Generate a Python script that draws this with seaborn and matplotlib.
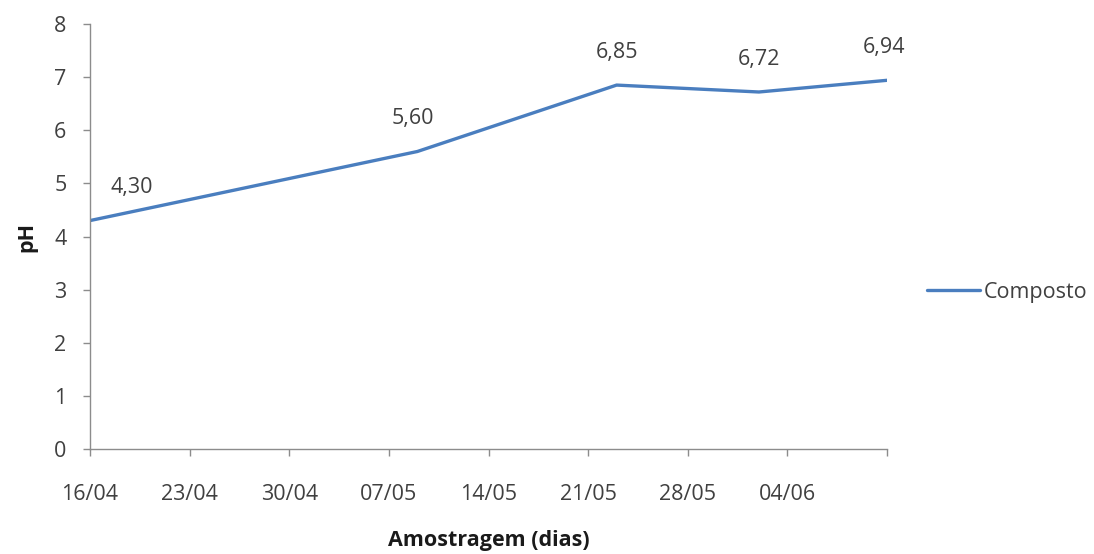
import matplotlib
matplotlib.use("Agg")
import matplotlib.pyplot as plt
import seaborn as sns
import pandas as pd

# Sampling dates (2012 season) and measured pH of the compost
sample_dates = ["2012-04-16", "2012-05-09", "2012-05-23", "2012-06-02", "2012-06-11"]
ph_values = [4.30, 5.60, 6.85, 6.72, 6.94]
series_name = "Composto"

tick_dates = pd.date_range("2012-04-16", "2012-06-11", freq="7D")
y_ticks = [0, 1, 2, 3, 4, 5, 6, 7, 8]

df = pd.DataFrame({
    "data": pd.to_datetime(sample_dates),
    "pH": ph_values,
    "serie": series_name,
})

sns.set_style("white")
plt.rcParams["font.family"] = ["Open Sans", "DejaVu Sans"]

FS = 15.5
TXT = "#404040"

fig = plt.figure(figsize=(10.94, 5.54), dpi=100)
ax = fig.add_axes([0.0823, 0.1895, 0.7285, 0.7672])

line_color = "#4A7EBF"
sns.lineplot(data=df, x="data", y="pH", hue="serie", palette=[line_color],
             linewidth=2.4, ax=ax, legend=True)

# value labels above each sample
offsets = [(30, 16), (-3, 16), (0, 16), (0, 16), (-2, 16)]
for d, v, off in zip(df["data"], ph_values, offsets):
    ax.annotate(f"{v:.2f}".replace(".", ","), (d, v), xytext=off,
                textcoords="offset points", ha="center", va="bottom",
                fontsize=FS, color=TXT)

ax.set_xlim(tick_dates[0], tick_dates[-1])
ax.set_ylim(0, 8)
ax.set_xticks(tick_dates)
labels = [d.strftime("%d/%m") for d in tick_dates]
labels[-1] = ""
ax.set_xticklabels(labels)
ax.set_yticks(y_ticks)

for side in ["top", "right"]:
    ax.spines[side].set_visible(False)
for side in ["left", "bottom"]:
    ax.spines[side].set_color("#8C8C8C")
    ax.spines[side].set_linewidth(1.0)

ax.tick_params(axis="both", which="major", direction="out", length=5,
               width=1.0, color="#8C8C8C", labelsize=FS, labelcolor=TXT,
               bottom=True, left=True)
ax.tick_params(axis="x", pad=20)
ax.tick_params(axis="y", pad=12)

ax.set_xlabel("Amostragem (dias)", fontsize=FS, fontweight="bold",
              color="#1a1a1a", labelpad=18)
ax.set_ylabel("pH", fontsize=FS, fontweight="bold", color="#1a1a1a",
              labelpad=12)

handles, names = ax.get_legend_handles_labels()
ax.get_legend().remove()
leg = fig.legend(handles, names, loc="center left",
                 bbox_to_anchor=(927 / 1094, 1 - 292 / 554), frameon=False,
                 fontsize=FS, handlelength=2.45, handletextpad=0.2,
                 borderpad=0, borderaxespad=0)
for t in leg.get_texts():
    t.set_color(TXT)

fig.savefig("out.png", dpi=100, facecolor="white")
